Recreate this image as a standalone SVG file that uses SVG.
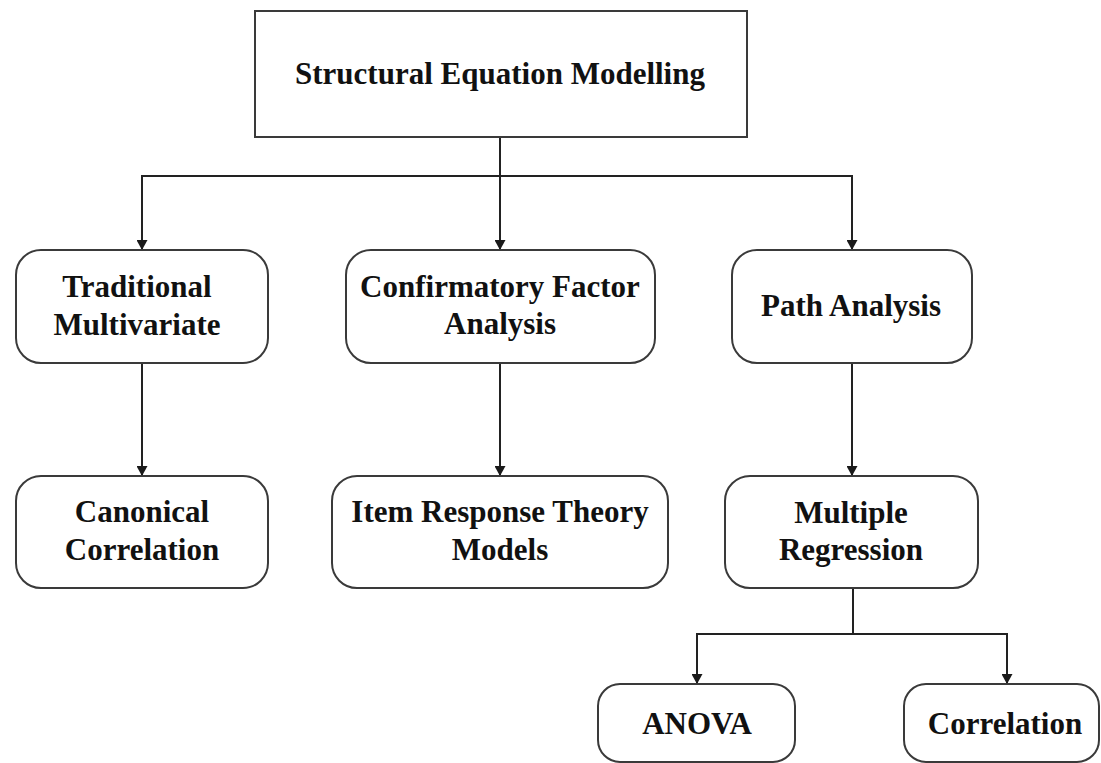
<svg xmlns="http://www.w3.org/2000/svg" width="1101" height="763" viewBox="0 0 1101 763">
  <defs>
    <marker id="arrow" viewBox="0 0 10 11" refX="10" refY="5.5" markerWidth="10" markerHeight="11" markerUnits="userSpaceOnUse" orient="auto">
      <path d="M0,0 L10,5.5 L0,11 Z" fill="#1a1a1a"/>
    </marker>
    <style>
      .box { fill: #ffffff; stroke: #3a3a3a; stroke-width: 2; }
      .label { font-family: "Liberation Serif", "Times New Roman", serif; font-weight: bold; font-size: 31px; fill: #111111; text-anchor: middle; }
      .edge { fill: none; stroke: #222222; stroke-width: 2; }
      .tip { marker-end: url(#arrow); }
    </style>
  </defs>
  <rect width="1101" height="763" fill="#ffffff"/>

  <!-- connectors -->
  <g id="connectors">
    <path class="edge" d="M500,137 V176"/>
    <path class="edge tip" d="M500,176 H142 V250"/>
    <path class="edge tip" d="M500,176 V250"/>
    <path class="edge tip" d="M500,176 H852 V250"/>
    <path class="edge tip" d="M142,363 V476"/>
    <path class="edge tip" d="M500,363 V476"/>
    <path class="edge tip" d="M852,363 V476"/>
    <path class="edge" d="M853,588 V634"/>
    <path class="edge tip" d="M853,634 H697 V684"/>
    <path class="edge tip" d="M853,634 H1007 V684"/>
  </g>

  <!-- nodes -->
  <g id="sem">
    <rect class="box" x="255" y="11" width="492" height="126"/>
    <text class="label" x="500" y="84">Structural Equation Modelling</text>
  </g>
  <g id="traditional">
    <rect class="box" x="16" y="250" width="252" height="113" rx="25"/>
    <text class="label" x="137" y="297">Traditional</text>
    <text class="label" x="137" y="335">Multivariate</text>
  </g>
  <g id="cfa">
    <rect class="box" x="346" y="250" width="309" height="113" rx="25"/>
    <text class="label" x="500" y="297">Confirmatory Factor</text>
    <text class="label" x="500" y="334">Analysis</text>
  </g>
  <g id="path-analysis">
    <rect class="box" x="732" y="250" width="240" height="113" rx="25"/>
    <text class="label" x="851" y="316">Path Analysis</text>
  </g>
  <g id="canonical">
    <rect class="box" x="16" y="476" width="252" height="112" rx="25"/>
    <text class="label" x="142" y="522">Canonical</text>
    <text class="label" x="142" y="560">Correlation</text>
  </g>
  <g id="irt">
    <rect class="box" x="332" y="476" width="336" height="112" rx="25"/>
    <text class="label" x="500" y="522">Item Response Theory</text>
    <text class="label" x="500" y="560">Models</text>
  </g>
  <g id="multiple-regression">
    <rect class="box" x="725" y="476" width="253" height="112" rx="25"/>
    <text class="label" x="851" y="523">Multiple</text>
    <text class="label" x="851" y="560">Regression</text>
  </g>
  <g id="anova">
    <rect class="box" x="598" y="684" width="197" height="78" rx="22"/>
    <text class="label" x="697" y="734">ANOVA</text>
  </g>
  <g id="correlation">
    <rect class="box" x="904" y="684" width="195" height="78" rx="22"/>
    <text class="label" x="1005" y="734">Correlation</text>
  </g>
</svg>
